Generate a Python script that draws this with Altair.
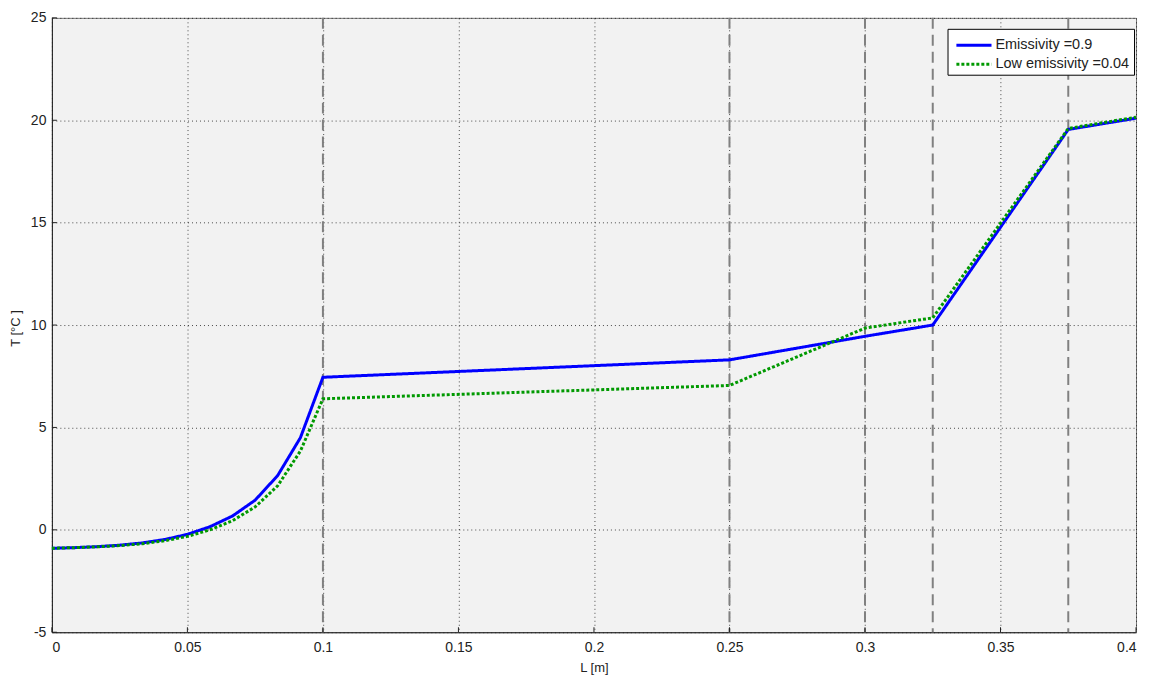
import altair as alt
import pandas as pd

# Data
x_vals = [0.0, 0.0083, 0.0167, 0.025, 0.0333, 0.0417, 0.05, 0.0583, 0.0667, 0.075,
          0.0833, 0.0917, 0.1, 0.25, 0.3, 0.325, 0.375, 0.4]
t_high = [-0.9, -0.87, -0.82, -0.75, -0.64, -0.47, -0.22, 0.15, 0.68, 1.45,
          2.65, 4.5, 7.45, 8.3, 9.45, 10.0, 19.55, 20.1]
t_low = [-0.9, -0.87, -0.83, -0.77, -0.68, -0.53, -0.32, 0.0, 0.45, 1.12,
         2.15, 3.85, 6.4, 7.05, 9.85, 10.35, 19.6, 20.15]
series_names = ["Emissivity =0.9", "Low emissivity =0.04"]
layer_bounds = [0.1, 0.25, 0.3, 0.325, 0.375]
x_ticks = [0, 0.05, 0.1, 0.15, 0.2, 0.25, 0.3, 0.35, 0.4]
y_ticks = [-5, 0, 5, 10, 15, 20, 25]

W, H = 1087, 616
FONT = "Liberation Sans"

df = pd.DataFrame(
    [{"L": x, "T": t, "series": series_names[0], "ord": i} for i, (x, t) in enumerate(zip(x_vals, t_high))]
    + [{"L": x, "T": t, "series": series_names[1], "ord": i} for i, (x, t) in enumerate(zip(x_vals, t_low))]
)
bounds = pd.DataFrame({"L": layer_bounds})
xt = pd.DataFrame({"v": x_ticks})
yt = pd.DataFrame({"v": y_ticks})

xscale = alt.Scale(domain=[0, 0.4], nice=False, zero=False)
yscale = alt.Scale(domain=[-5, 25], nice=False, zero=False)

fix_minus = "replace(datum.label, '\u2212', '-')"
xaxis = alt.Axis(values=x_ticks, format="~g", title="L [m]", grid=True, tickSize=0,
                 labelPadding=8, titlePadding=7, labelExpr=fix_minus)
yaxis = alt.Axis(values=y_ticks, format="~g", title="T [°C ]", grid=True, tickSize=0,
                 labelPadding=6, labelExpr=fix_minus,
                 titleX=-36, titleY=311, titleAngle=270, titleAlign="center",
                 titleBaseline="middle")

lines = alt.Chart(df).mark_line(strokeWidth=3).encode(
    x=alt.X("L:Q", scale=xscale, axis=xaxis),
    y=alt.Y("T:Q", scale=yscale, axis=yaxis),
    color=alt.Color("series:N", sort=series_names,
                    scale=alt.Scale(domain=series_names, range=["#0000ff", "#009900"]),
                    legend=alt.Legend(title=None, orient="none", legendX=898, legendY=11,
                                      fillColor="white", strokeColor="black", padding=4,
                                      symbolType="M-1.6,0L1.6,0", symbolSize=484,
                                      symbolStrokeWidth=3, symbolOffset=10,
                                      labelFontSize=14.5, labelFont=FONT, labelColor="#222",
                                      rowPadding=0, labelOffset=9)),
    strokeDash=alt.StrokeDash("series:N", sort=series_names,
                              scale=alt.Scale(domain=series_names, range=[[1, 0], [3, 2]]),
                              legend=None),
    order="ord:Q",
)

vrules = alt.Chart(bounds).mark_rule(color="#808080", strokeWidth=2, strokeDash=[11, 6]).encode(
    x=alt.X("L:Q", scale=xscale)
)

xticks_m = alt.Chart(xt).mark_rule(color="#222", strokeWidth=1).encode(
    x=alt.X("v:Q", scale=xscale), y=alt.value(H), y2=alt.value(H - 5)
)
yticks_m = alt.Chart(yt).mark_rule(color="#222", strokeWidth=1).encode(
    y=alt.Y("v:Q", scale=yscale), x=alt.value(0), x2=alt.value(5)
)

chart = alt.layer(vrules, xticks_m, yticks_m, lines).properties(
    width=W, height=H,
    background="white",
    autosize=alt.AutoSizeParams(type="none"),
    padding={"left": 44, "top": 9, "right": 10, "bottom": 45},
).configure_view(
    fill="#f2f2f2", stroke="#777", strokeWidth=1
).configure_axis(
    gridColor="#000", gridDash=[1, 3], gridOpacity=0.7, gridWidth=1,
    domainColor="#222", domainWidth=1,
    labelFont=FONT, labelFontSize=14, labelColor="#222",
    titleFont=FONT, titleFontSize=13, titleFontWeight="normal", titleColor="#222",
)

chart.save("out.html", embed_options={"renderer": "svg", "actions": False})
